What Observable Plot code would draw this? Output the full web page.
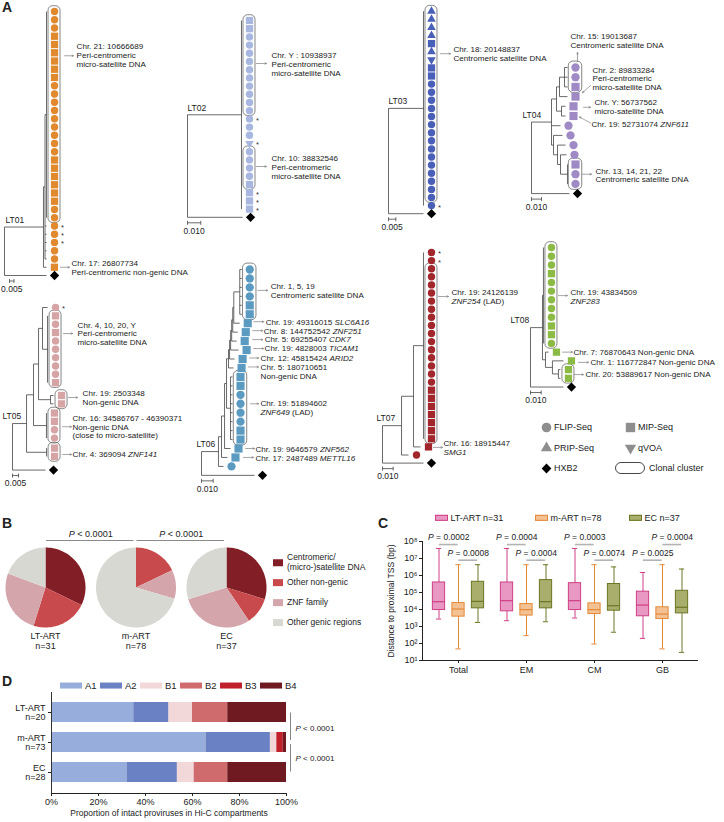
<!DOCTYPE html>
<html><head><meta charset="utf-8">
<script src="https://cdn.jsdelivr.net/npm/d3@7"></script>
<script src="https://cdn.jsdelivr.net/npm/@observablehq/plot@0.6"></script>
<style>
html,body{margin:0;padding:0;background:#fff;}
#fig{position:relative;width:724px;height:822px;overflow:hidden;background:#fff;font-family:'Liberation Sans',Arial,Helvetica,sans-serif;color:#222;}
.letter{position:absolute;font-weight:bold;font-size:14px;line-height:1;}
.leg{position:absolute;display:flex;align-items:center;transform:translateY(-50%);line-height:1.15;white-space:pre;}
.sw{display:inline-block;flex:none;box-sizing:border-box;}
.vlabel{position:absolute;white-space:nowrap;transform:translate(-50%,-50%) rotate(-90deg);line-height:1;}
</style></head>
<body><div id="fig"></div>
<script>
// ======================= DATA =======================
// Panel A: phylogenetic trees. Tip codes: c FLIP-Seq, s MIP-Seq, t PRIP-Seq, v qVOA, H HXB2; "*" marks flagged tips.
// Branch lengths in substitutions/site.
const treeIds = ["LT01","LT02","LT03","LT04","LT05","LT06","LT07","LT08"];
const treeNewick = [
 "((((c,c,c,s,s,s,s,s,s,c,c,c,c,c,c,c,c,c,s,s,s,s,s,s,c,c):0.0017,c*:0.0017,c*:0.0017,c*:0.0017,c:0.0017,c:0.0017):0.0017,s:0.0033):0.0433,H:0.0467)",
 "((s,s,c,c,c,c,c,c,c,c,c,c,c*,c,c,v*,c,c,c,c,s,s*,s*,s*):0.0406,H:0.0414)",
 "((t,t,t,t,s,t,v,s,s,c,c,c,c,c,c,c,c,c,c,c,c,c,c,c,c*):0.0238,H:0.0238)",
 "(((((c:0.003,c:0.003,s:0.003):0.005,s:0.008):0.003,(s:0.004,s:0.004):0.005):0.005,c:0.009,(c:0.009,(c:0.008,(c:0.006,(s,c,c):0.007):0.003):0.004):0.002):0.020,H:0.038)",
 "(((((c*:0.0042,(s,c,s,c,c,c,c,c,s):0.0042):0.0033,(s:0.0025,s:0.0025):0.01):0.0042,(s,s,c,c):0.0108):0.0058,(s,s):0.0167):0.0117,H:0.0275)",
 "((((((((((((c:0.0017,c:0.0017,c:0.0017,c:0.0017,s:0.0017,s:0.0017):0.0051,s:0.0051):0.0009,s:0.0043):0.0009,s:0.0043):0.0009,s:0.0068):0.0009,s:0.0043):0.0009,s:0.0043):0.0017,(s:0.0017,s:0.0017,c:0.0017,c:0.0017,c:0.0017,c:0.0017,s:0.0017,s:0.0017):0.0034):0.0017,s:0.0051):0.0026,s:0.0051):0.0026,c:0.0043):0.0145,H:0.0453)",
 "((((c*,c*,c,c,c,c,c,c,c,c,c,c,c,c,c,c,c,s,s,s,s,s,s,s):0.0093,s:0.0065):0.0112,c:0.0065):0.0178,H:0.0383)",
 "(((c,c,c,s,c,c,c,c,c,s,s,c):0.0009,(s:0.0028,(s:0.0103,(s:0.0019,s:0.0019):0.0056):0.0065):0.0028):0.0112,H:0.0308)"
];
// clonal clusters: [first tip, last tip]
const treeClusters = [
 [[0,25]], [[0,11],[16,20]], [[0,23]], [[0,2],[10,12]],
 [[1,9],[10,11],[12,15],[16,17]], [[0,5],[12,19]], [[2,23]], [[0,11],[14,15]]
];
const treeScaleBar = [0.005, 0.010, 0.005, 0.010, 0.005, 0.010, 0.010, 0.010];
const treeNotes = [
 [{tip:5, text:"Chr. 21: 10666689\nPeri-centromeric\nmicro-satellite DNA"},
  {tip:31, text:"Chr. 17: 26807734\nPeri-centromeric non-genic DNA"}],
 [{tip:5, text:"Chr. Y : 10938937\nPeri-centromeric\nmicro-satellite DNA"},
  {tip:18, text:"Chr. 10: 38832546\nPeri-centromeric\nmicro-satellite DNA"}],
 [{tip:5, text:"Chr. 18: 20148837\nCentromeric satellite DNA"}],
 [{tip:0, text:"Chr. 15: 19013687\nCentromeric satellite DNA"},
  {tip:3, text:"Chr. 2: 89833284\nPeri-centromeric\nmicro-satellite DNA"},
  {tip:4, text:"Chr. Y: 56737562\nmicro-satellite DNA"},
  {tip:5, text:"Chr. 19: 52731074 _ZNF611_"},
  {tip:11, text:"Chr. 13, 14, 21, 22\nCentromeric satellite DNA"}],
 [{tip:3, text:"Chr. 4, 10, 20, Y\nPeri-centromeric\nmicro-satellite DNA"},
  {tip:10, text:"Chr. 19: 2503348\nNon-genic DNA"},
  {tip:14, text:"Chr. 16: 34586767 - 46390371\nNon-genic DNA\n(close to micro-satellite)"},
  {tip:17, text:"Chr. 4: 369094 _ZNF141_"}],
 [{tip:2, text:"Chr. 1, 5, 19\nCentromeric satellite DNA"},
  {tip:6, text:"Chr. 19: 49316015 _SLC6A16_"},
  {tip:7, text:"Chr. 8: 144752542 _ZNF251_"},
  {tip:8, text:"Chr. 5: 69255407 _CDK7_"},
  {tip:9, text:"Chr. 19: 4828003 _TICAM1_"},
  {tip:10, text:"Chr. 12: 45815424 _ARID2_"},
  {tip:11, text:"Chr. 5: 180710651\nNon-genic DNA"},
  {tip:15, text:"Chr. 19: 51894602\n_ZNF649_ (LAD)"},
  {tip:20, text:"Chr. 19: 9646579 _ZNF562_"},
  {tip:21, text:"Chr. 17: 2487489 _METTL16_"}],
 [{tip:5, text:"Chr. 19: 24126139\n_ZNF254_ (LAD)"},
  {tip:24, text:"Chr. 16: 18915447\n_SMG1_"}],
 [{tip:5, text:"Chr. 19: 43834509\n_ZNF283_"},
  {tip:12, text:"Chr. 7: 76870643 Non-genic DNA"},
  {tip:13, text:"Chr. 1: 116772847 Non-genic DNA"},
  {tip:14, text:"Chr. 20: 53889617 Non-genic DNA"}]
];
const seqLegend = ["FLIP-Seq","MIP-Seq","PRIP-Seq","qVOA","HXB2","Clonal cluster"];
const seqLegendShape = ["c","s","t","v","H","box"];

// Panel B
const pieGroups = ["LT-ART","m-ART","EC"];
const pieN = [31, 78, 37];
const pieCats = ["Centromeric/\n(micro-)satellite DNA","Other non-genic","ZNF family","Other genic regions"];
const pieCounts = [[10,7,8,6],[0,14,9,55],[11,4,11,11]];
const pieP = ["< 0.0001","< 0.0001"];

// Panel C: [min, Q1, median, Q3, max] distance (bp)
const tssRegions = ["Total","EM","CM","GB"];
const tssGroups = ["LT-ART n=31","m-ART n=78","EC n=37"];
const tssLT = [[2750,9300,28800,389000,3.9e7],[2190,7800,33100,389000,3.9e7],[3160,9300,33100,355000,3.9e7],[200,4000,18200,112000,1.5e6]];
const tssM  = [[48,3800,10700,24000,4.3e6],[290,4400,9800,20900,4.3e6],[93,5400,9800,22900,4.3e6],[48,2750,5400,13500,4.3e6]];
const tssEC = [[1740,11700,30200,427000,4.3e6],[1900,11700,28800,537000,4.3e6],[460,8500,16600,316000,3.2e6],[30,5900,13500,126000,2.4e6]];
const tssP01 = ["0.0002","0.0004","0.0003","0.0025"];   // LT-ART vs m-ART
const tssP12 = ["0.0008","0.0004","0.0074","0.0004"];   // m-ART vs EC
const tssUpperPair = [0,0,0,1];
const tssTicks = [1e1,1e2,1e3,1e4,1e5,1e6,1e7,1e8];
const tssYLabel = "Distance to proximal TSS (bp)";

// Panel D
const hicGroups = ["LT-ART","m-ART","EC"];
const hicN = [20, 73, 28];
const hicComps = ["A1","A2","B1","B2","B3","B4"];
const hicCounts = [[7,3,2,3,0,5],[48,20,2,0,2,1],[9,6,2,4,0,7]];
const hicP = ["< 0.0001","< 0.0001"];
const hicTicks = [0,0.2,0.4,0.6,0.8,1];
const hicXLabel = "Proportion of intact proviruses in Hi-C compartments";

// ======================= STYLE / LAYOUT =======================
const FONT = "'Liberation Sans', Arial, Helvetica, sans-serif";
const treeColors = ["#e1892f","#a8b7e0","#4a5fb8","#9f8ac6","#d7a4a6","#5b9bc2","#a2272c","#8cbb45"];
const treeLayout = [
 {rootX:4,   ppu:900,  y0:11,   step:8.25, labelDx:1,  barDx:5},
 {rootX:187, ppu:1330, y0:20,   step:8.2,  labelDx:0},
 {rootX:388, ppu:1470, y0:10.7, step:8.1,  labelDx:0},
 {rootX:531, ppu:1000, y0:67,   step:9.7,  labelDx:-9, big:true},
 {rootX:12,  ppu:1200, y0:307,  step:8.35, labelDx:-10, gaps:{9:0.54,11:0.1,15:0.2,17:0.63}},
 {rootX:201, ppu:1170, y0:269,  step:8.95, labelDx:-5, big:true},
 {rootX:382, ppu:1070, y0:252,  step:8.1,  labelDx:-6},
 {rootX:530, ppu:1070, y0:247,  step:8.72, labelDx:-20}
];
// per note: [arrow x1, y1, x2, y2, text x, text y] in px relative to the tip marker
const noteOffsets = [
 [[10,3,19,3,22,2],[6,0,15,0,17,0]],
 [[7,2,17,2,22,2.5],[7,-1.6,17,-1.6,22,-0.6]],
 [[9,2,19,2,22,2]],
 [[2,-6,2,-15,-5,-27],[15,-11,7,-4,17,-18],[10,1,17,1,21,0],[17,7,6,1,18,8.5],[7,0,16,0,20,1]],
 [[8,1,17,1,22,1],[7,2,16,2,21,2.5],[8,-3,17,-3,18,-3],[8,-2,17,-2,18,-2]],
 [[8,3,18,3,21,3],[6,-1.5,16,-1.5,18,-1.5],[7,-1.5,17,-1.5,18,-1.5],[8,-1.5,18,-1.5,20,-1.5],[7,-1.5,17,-1.5,18,-1.5],[7,-1,16,-1,18,-1],[7,-1,17,-1,19,3.5],[10,0,18,0,20,4],[7,0,16,0,17,1],[8,0,18,0,20,1]],
 [[7,3.5,17,3.5,20,3.5],[5,0.5,14,0.5,15,0.5]],
 [[7,4.5,16,4.5,19,5.5],[6,0,16,0,17,0],[7,1.5,17,1.5,19,1.5],[6,5,15,5,17,5]]
];
const triDown = {draw(ctx, size){ const s3 = Math.sqrt(3), y = -Math.sqrt(size/(s3*3)); ctx.moveTo(0, -y*2); ctx.lineTo(-s3*y, y); ctx.lineTo(s3*y, y); ctx.closePath(); }};
const diamondSym = {draw(ctx, size){ const r = Math.sqrt(size/2); ctx.moveTo(0,-r); ctx.lineTo(r,0); ctx.lineTo(0,r); ctx.lineTo(-r,0); ctx.closePath(); }};
const tipSymbols = {c:["circle",3.7], s:["square",4.1], t:["triangle",3.2], v:[triDown,3.2], H:[diamondSym,3.7]};

const pieColors = ["#821f26","#c94a4c","#d4a6ab","#d8d8d2"];
const pieCenterX = 45, pieCenterY = 587, pieR = 40, pieSpacing = 90.5 / 40;
const cFill = ["#e898c2","#f4c292","#a9ae6c"], cStroke = ["#cf3f86","#e3893a","#6b7724"];
const cFrame = {left:422, right:697, top:541, bottom:660};
const groupDx = [-19.5, 0, 19.5];
const hicColors = ["#97aedd","#6a82c3","#f2d8d8","#cf6b6d","#c0202b","#6e1a20"];
const dFrame = {left:51, right:286, top:692, bottom:793};

// ======================= HELPERS =======================
const fig = document.getElementById("fig");
function italicize(svg) {
  svg.querySelectorAll("text, tspan").forEach(el => {
    if (el.children.length) return;
    const s = el.textContent;
    if (!s.includes("_")) return;
    el.textContent = "";
    s.split("_").forEach((part, i) => {
      if (!part) return;
      const t = document.createElementNS("http://www.w3.org/2000/svg", "tspan");
      if (i % 2) t.setAttribute("font-style", "italic");
      t.textContent = part;
      el.appendChild(t);
    });
  });
}
function overlay(opts) {
  const svg = Plot.plot({width: 724, height: 822, ...opts,
    style: `position:absolute;left:0;top:0;background:none;overflow:visible;font-family:${FONT};font-size:9px;color:#222;`});
  italicize(svg);
  fig.appendChild(svg);
  return svg;
}
function parseNewick(s) {
  let i = 0;
  function node() {
    const n = {children: [], len: 0, name: ""};
    if (s[i] === "(") {
      i++;
      n.children.push(node());
      while (s[i] === ",") { i++; n.children.push(node()); }
      i++;
    }
    let name = "";
    while (i < s.length && !":,()".includes(s[i])) name += s[i++];
    n.name = name;
    if (s[i] === ":") { i++; let num = ""; while (i < s.length && !",()".includes(s[i])) num += s[i++]; n.len = +num; }
    return n;
  }
  return node();
}
function layoutTree(newick, gaps) {
  const root = parseNewick(newick);
  const tips = [], segs = [];
  let k = 0, acc = 0;
  (function walk(n, x0) {
    n.x = x0 + n.len;
    if (!n.children.length) {
      n.i = k; n.y = k + acc; acc += gaps[k] || 0; k++;
      n.shape = n.name[0]; n.star = n.name.includes("*");
      tips.push(n);
    } else {
      n.children.forEach(c => walk(c, n.x));
      const a = n.children[0].y, b = n.children[n.children.length - 1].y;
      n.y = (a + b) / 2;
      segs.push({x1: n.x, y1: a, x2: n.x, y2: b});
      n.children.forEach(c => { if (c.x > n.x) segs.push({x1: n.x, y1: c.y, x2: c.x, y2: c.y}); });
    }
  })(root, 0);
  return {root, tips, segs};
}
function addLetter(ch, left, top) {
  const d = document.createElement("div"); d.className = "letter"; d.textContent = ch;
  d.style.left = left + "px"; d.style.top = top + "px"; fig.appendChild(d);
}
function legendRow(left, yc, swCss, label, fontSize, gapPx) {
  const d = document.createElement("div"); d.className = "leg";
  d.style.left = left + "px"; d.style.top = yc + "px"; d.style.fontSize = fontSize + "px";
  const sw = document.createElement("span"); sw.className = "sw"; sw.style.cssText = swCss + `;margin-right:${gapPx}px`;
  const tx = document.createElement("span"); tx.textContent = label;
  d.append(sw, tx); fig.appendChild(d);
}

// ======================= PANEL A =======================
function drawTree(t) {
  const L = treeLayout[t];
  const {root, tips, segs} = layoutTree(treeNewick[t], L.gaps || {});
  const px = v => v / L.ppu, py = v => v / L.step;
  const k = L.big ? 1.12 : 1;
  tips.forEach(d => d.mx = d.x + px(8));
  const H = tips.find(d => d.shape === "H");
  const boxes = treeClusters[t].map(([a, b]) => {
    const ts = tips.slice(a, b + 1);
    return {x1: d3.min(ts, d => d.mx) - px(6 * k), x2: d3.max(ts, d => d.mx) + px(6 * k),
            y1: ts[0].y - py(5.3 * k), y2: ts[ts.length - 1].y + py(5.3 * k)};
  });
  const notes = treeNotes[t].map((n, j) => {
    const o = noteOffsets[t][j], T = tips[n.tip];
    return {x1: T.mx + px(o[0]), y1: T.y + py(o[1]), x2: T.mx + px(o[2]), y2: T.y + py(o[3]),
            tx: T.mx + px(o[4]), ty: T.y + py(o[5]), text: n.text};
  });
  const upper = root.children[0];
  const bar = treeScaleBar[t], b0 = px(L.barDx || 0), by = H.y + py(5.5);
  const marks = [
    Plot.link(segs, {x1: "x1", y1: "y1", x2: "x2", y2: "y2", stroke: "#444", strokeWidth: 0.8}),
    Plot.rect(boxes, {x1: "x1", x2: "x2", y1: "y1", y2: "y2", rx: 4.5, fill: "none", stroke: "#666", strokeWidth: 0.8})
  ];
  for (const [code, [sym, r]] of Object.entries(tipSymbols)) {
    const ds = tips.filter(d => d.shape === code);
    if (ds.length) marks.push(Plot.dot(ds, {x: "mx", y: "y", r: code === "H" ? r : r * k, symbol: sym,
      fill: code === "H" ? "#000" : treeColors[t]}));
  }
  marks.push(
    Plot.text(tips.filter(d => d.star), {x: d => d.mx + px(6.5), y: "y", dy: 1.5, text: () => "*", fontSize: 7.5, textAnchor: "start", fill: "#333"}),
    Plot.arrow(notes, {x1: "x1", y1: "y1", x2: "x2", y2: "y2", stroke: "#808080", strokeWidth: 0.7, headLength: 3.5, headAngle: 55}),
    Plot.text(notes, {x: "tx", y: "ty", text: "text", textAnchor: "start", lineAnchor: "middle", fontSize: 8.1, lineHeight: 1.1, fill: "#222"}),
    Plot.text([treeIds[t]], {x: px(L.labelDx), y: upper.y - py(7), text: d => d, textAnchor: "start", fontSize: 8.5, fill: "#222"}),
    Plot.link([{}], {x1: b0, x2: b0 + bar, y1: by, y2: by, stroke: "#444", strokeWidth: 0.8}),
    Plot.link([b0, b0 + bar], {x1: d => d, x2: d => d, y1: by - py(2), y2: by + py(2), stroke: "#444", strokeWidth: 0.8}),
    Plot.text([bar], {x: b0 + bar / 2, y: H.y + py(13.5), text: d => d.toFixed(3), fontSize: 8.5, fill: "#222"})
  );
  overlay({x: {domain: [0, 1], range: [L.rootX, L.rootX + L.ppu], axis: null},
           y: {domain: [0, 1], range: [L.y0, L.y0 + L.step], axis: null}, marks});
}
treeIds.forEach((_, t) => drawTree(t));

// Panel A legend
{
  const items = seqLegend.map((label, i) => ({label, shape: seqLegendShape[i], col: i % 2, row: Math.floor(i / 2)}));
  const ux = 84, uy = 20.5;
  const legSym = {c: ["circle", 4.8], s: ["square", 5.3], t: ["triangle", 4.2], v: [triDown, 4.2], H: [diamondSym, 3.9]};
  const marks = [];
  for (const [code, [sym, r]] of Object.entries(legSym)) {
    marks.push(Plot.dot(items.filter(d => d.shape === code), {x: "col", y: "row", r, symbol: sym, fill: code === "H" ? "#000" : "#8e8e8e"}));
  }
  marks.push(
    Plot.rect(items.filter(d => d.shape === "box"), {x1: d => d.col - 14.5 / ux, x2: d => d.col + 14.5 / ux, y1: d => d.row - 5.5 / uy, y2: d => d.row + 5.5 / uy, rx: 5.5, fill: "none", stroke: "#333", strokeWidth: 0.9}),
    Plot.text(items.filter(d => d.shape !== "box"), {x: "col", y: "row", dx: 7.5, text: "label", textAnchor: "start", fontSize: 9}),
    Plot.text(items.filter(d => d.shape === "box"), {x: "col", y: "row", dx: 18.5, text: "label", textAnchor: "start", fontSize: 9})
  );
  overlay({x: {domain: [0, 1], range: [546, 546 + ux], axis: null}, y: {domain: [0, 2], range: [427, 427 + 2 * uy], axis: null}, marks});
}

// ======================= PANEL B =======================
{
  const slices = [];
  pieGroups.forEach((g, gi) => {
    let cum = 0; const n = d3.sum(pieCounts[gi]);
    pieCounts[gi].forEach((c, ci) => {
      if (!c) return;
      const a0 = cum / n * 2 * Math.PI, a1 = (cum + c) / n * 2 * Math.PI; cum += c;
      const K = Math.max(2, Math.ceil((a1 - a0) / (2 * Math.PI) * 144)), key = g + "|" + ci;
      slices.push({key, cat: pieCats[ci], x: gi * pieSpacing, y: 0});
      for (let j = 0; j <= K; j++) { const a = a0 + (a1 - a0) * j / K; slices.push({key, cat: pieCats[ci], x: gi * pieSpacing + Math.sin(a), y: Math.cos(a)}); }
    });
  });
  overlay({
    x: {domain: [-1, 1], range: [pieCenterX - pieR, pieCenterX + pieR], axis: null},
    y: {domain: [-1, 1], range: [pieCenterY + pieR, pieCenterY - pieR], axis: null},
    color: {domain: pieCats, range: pieColors},
    marks: [
      Plot.line(slices, {x: "x", y: "y", z: "key", fill: "cat", stroke: "none", curve: "linear-closed"}),
      Plot.ruleY([0, 1], {y: 1.175, x1: d => d * pieSpacing, x2: d => (d + 1) * pieSpacing, insetLeft: 1, insetRight: 2, stroke: "#8a8a8a", strokeWidth: 1}),
      Plot.text([0, 1], {x: d => (d + 0.5) * pieSpacing, y: 1.33, text: d => "_P_ " + pieP[d], fontSize: 9}),
      Plot.text(pieGroups, {x: (d, i) => i * pieSpacing, y: -1.33, text: (d, i) => d + "\nn=" + pieN[i], fontSize: 9, lineHeight: 1.15})
    ]
  });
  const rowsY = [563, 583, 603, 623];
  pieCats.forEach((c, i) => legendRow(273, rowsY[i], `width:10px;height:7px;background:${pieColors[i]}`, c, 8.5, 4));
}

// ======================= PANEL C =======================
{
  const tssData = [tssLT, tssM, tssEC];
  const rows = tssData.map(arr => arr.map((s, ri) => ({region: tssRegions[ri], mn: s[0], q1: s[1], md: s[2], q3: s[3], mx: s[4]})));
  const bw = (cFrame.right - cFrame.left) / tssRegions.length;
  const boxIns = (bw - 13) / 2, capIns = (bw - 6) / 2;
  const sup = ["⁰","¹","²","³","⁴","⁵","⁶","⁷","⁸","⁹"];
  const yUp = 10 ** 7.82, yLo = 10 ** 6.9;
  const pairs = tssRegions.map((r, ri) => ({region: r, p01: tssP01[ri], p12: tssP12[ri], up: tssUpperPair[ri]}));
  const marks = [];
  rows.forEach((rs, gi) => {
    const dx = groupDx[gi], st = cStroke[gi];
    marks.push(
      Plot.ruleX(rs, {x: "region", y1: "mn", y2: "mx", dx, stroke: st, strokeWidth: 1}),
      Plot.barY(rs, {x: "region", y1: "q1", y2: "q3", dx, insetLeft: boxIns, insetRight: boxIns, fill: cFill[gi], stroke: st, strokeWidth: 1}),
      Plot.tickY(rs, {x: "region", y: "md", dx, insetLeft: boxIns, insetRight: boxIns, stroke: st, strokeWidth: 1.2}),
      Plot.tickY(rs, {x: "region", y: "mn", dx, insetLeft: capIns, insetRight: capIns, stroke: st, strokeWidth: 1}),
      Plot.tickY(rs, {x: "region", y: "mx", dx, insetLeft: capIns, insetRight: capIns, stroke: st, strokeWidth: 1})
    );
  });
  marks.push(
    Plot.tickY(pairs, {x: "region", y: d => d.up === 0 ? yUp : yLo, insetLeft: bw / 2 + groupDx[0], insetRight: bw / 2 - groupDx[1], stroke: "#b3b3b3", strokeWidth: 1.6}),
    Plot.tickY(pairs, {x: "region", y: d => d.up === 1 ? yUp : yLo, insetLeft: bw / 2 + groupDx[1], insetRight: bw / 2 - groupDx[2], stroke: "#b3b3b3", strokeWidth: 1.6}),
    Plot.text(pairs, {x: "region", y: d => d.up === 0 ? yUp : yLo, dx: (groupDx[0] + groupDx[1]) / 2, dy: -7, text: d => "_P_ = " + d.p01, fontSize: 8.5}),
    Plot.text(pairs, {x: "region", y: d => d.up === 1 ? yUp : yLo, dx: (groupDx[1] + groupDx[2]) / 2, dy: -7, text: d => "_P_ = " + d.p12, fontSize: 8.5})
  );
  overlay({
    marginLeft: cFrame.left, marginRight: 724 - cFrame.right, marginTop: cFrame.top, marginBottom: 822 - cFrame.bottom,
    x: {type: "band", domain: tssRegions, padding: 0, tickSize: 3, tickPadding: 3, line: true, label: null},
    y: {type: "log", domain: [10, 1e8], ticks: tssTicks, tickFormat: d => "10" + sup[Math.round(Math.log10(d))], tickSize: 3, tickPadding: 2, line: true, label: null},
    marks
  });
  const lab = document.createElement("div");
  lab.className = "vlabel"; lab.textContent = tssYLabel;
  lab.style.cssText = `left:${cFrame.left - 31}px;top:${(cFrame.top + cFrame.bottom) / 2}px;font-size:8.5px;`;
  fig.appendChild(lab);
  const lx = [435, 535, 629];
  tssGroups.forEach((g, i) => legendRow(lx[i], 518, `width:12.5px;height:6.5px;background:${cFill[i]};border:1px solid ${cStroke[i]}`, g, 9, 3));
}

// ======================= PANEL D =======================
{
  const hicRows = [];
  hicGroups.forEach((g, gi) => hicComps.forEach((c, ci) => hicRows.push({group: g, comp: c, count: hicCounts[gi][ci]})));
  const xOut = 1 + 4 / (dFrame.right - dFrame.left);
  const pairs = [{a: hicGroups[0], b: hicGroups[1], p: hicP[0]}, {a: hicGroups[1], b: hicGroups[2], p: hicP[1]}];
  overlay({
    marginLeft: dFrame.left, marginRight: 724 - dFrame.right, marginTop: dFrame.top, marginBottom: 822 - dFrame.bottom,
    x: {domain: [0, 1], ticks: hicTicks, tickFormat: d3.format(".0%"), tickSize: 3, tickPadding: 2, line: true, label: null},
    y: {type: "band", domain: hicGroups, paddingInner: 0.32, paddingOuter: 0.3, tickSize: 3, tickPadding: 3, label: null,
        tickFormat: d => d + "\nn=" + hicN[hicGroups.indexOf(d)]},
    color: {domain: hicComps, range: hicColors},
    marks: [
      Plot.barX(hicRows, {x: "count", y: "group", fill: "comp", offset: "normalize", order: hicComps}),
      Plot.ruleX([0], {stroke: "#333"}),
      Plot.ruleX(pairs.slice(0, 1), {x: xOut, y1: "a", y2: "b", insetTop: 10.5, insetBottom: 12, stroke: "#666", strokeWidth: 0.8}),
      Plot.ruleX(pairs.slice(1), {x: xOut, y1: "a", y2: "b", insetTop: 12, insetBottom: 10.5, stroke: "#666", strokeWidth: 0.8}),
      Plot.text(pairs, {x: xOut, y: "a", dx: 5, dy: 15.5, text: d => "_P_ " + d.p, textAnchor: "start", fontSize: 8}),
      Plot.text([hicXLabel], {frameAnchor: "bottom", dy: 22, text: d => d, fontSize: 8.5})
    ]
  });
  hicComps.forEach((c, i) => legendRow(60 + 40 * i, 686, `width:22px;height:6px;background:${hicColors[i]}`, c, 9.5, 3));
}

addLetter("A", 2, 0);
addLetter("B", 2, 516);
addLetter("C", 378, 516);
addLetter("D", 2, 674);
</script></body></html>
